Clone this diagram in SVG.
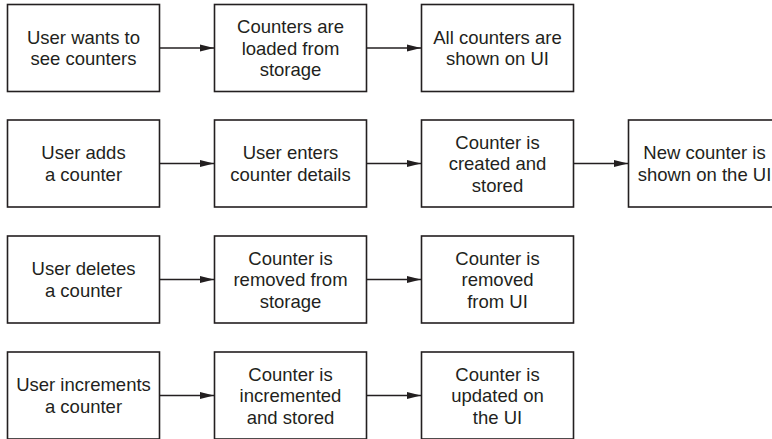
<svg xmlns="http://www.w3.org/2000/svg" width="772" height="439" viewBox="0 0 772 439">
<defs>
<style>
.box{fill:#fff;stroke:#231f20;stroke-width:1.6}
.t{font-family:"Liberation Sans",Arial,sans-serif;font-size:18.5px;fill:#231f20;text-anchor:middle}
.c{stroke:#231f20;stroke-width:1.3;fill:none;marker-end:url(#ah)}
</style>
<marker id="ah" markerUnits="userSpaceOnUse" markerWidth="14" markerHeight="8" refX="14" refY="4" orient="auto">
<path d="M0,0.5 L14,4 L0,7.5 z" fill="#231f20"/>
</marker>
</defs>
<rect width="772" height="439" fill="#fff"/>
<g id="connectors">
<line class="c" x1="159.5" y1="48" x2="214" y2="48"/>
<line class="c" x1="366.5" y1="48" x2="421" y2="48"/>
<line class="c" x1="159.5" y1="163.5" x2="214" y2="163.5"/>
<line class="c" x1="366.5" y1="163.5" x2="421" y2="163.5"/>
<line class="c" x1="573.5" y1="163.5" x2="628" y2="163.5"/>
<line class="c" x1="159.5" y1="279.5" x2="214" y2="279.5"/>
<line class="c" x1="366.5" y1="279.5" x2="421" y2="279.5"/>
<line class="c" x1="159.5" y1="395.5" x2="214" y2="395.5"/>
<line class="c" x1="366.5" y1="395.5" x2="421" y2="395.5"/>
</g>
<g id="n1"><rect class="box" x="7.5" y="4.5" width="152" height="87"/>
<text class="t" x="83.5" y="43.5">User wants to</text><text class="t" x="83.5" y="65">see counters</text></g>
<g id="n2"><rect class="box" x="214.5" y="4.5" width="152" height="87"/>
<text class="t" x="290.5" y="33">Counters are</text><text class="t" x="290.5" y="54.5">loaded from</text><text class="t" x="290.5" y="76">storage</text></g>
<g id="n3"><rect class="box" x="421.5" y="4.5" width="152" height="87"/>
<text class="t" x="497.5" y="43.5">All counters are</text><text class="t" x="497.5" y="65">shown on UI</text></g>

<g id="n4"><rect class="box" x="7.5" y="120" width="152" height="87"/>
<text class="t" x="83.5" y="159">User adds</text><text class="t" x="83.5" y="180.5">a counter</text></g>
<g id="n5"><rect class="box" x="214.5" y="120" width="152" height="87"/>
<text class="t" x="290.5" y="159">User enters</text><text class="t" x="290.5" y="180.5">counter details</text></g>
<g id="n6"><rect class="box" x="421.5" y="120" width="152" height="87"/>
<text class="t" x="497.5" y="148.5">Counter is</text><text class="t" x="497.5" y="170">created and</text><text class="t" x="497.5" y="191.5">stored</text></g>
<g id="n7"><rect class="box" x="628.5" y="120" width="152" height="87"/>
<text class="t" x="704.5" y="159">New counter is</text><text class="t" x="704.5" y="180.5">shown on the UI</text></g>

<g id="n8"><rect class="box" x="7.5" y="236" width="152" height="87"/>
<text class="t" x="83.5" y="275">User deletes</text><text class="t" x="83.5" y="296.5">a counter</text></g>
<g id="n9"><rect class="box" x="214.5" y="236" width="152" height="87"/>
<text class="t" x="290.5" y="264.5">Counter is</text><text class="t" x="290.5" y="286">removed from</text><text class="t" x="290.5" y="307.5">storage</text></g>
<g id="n10"><rect class="box" x="421.5" y="236" width="152" height="87"/>
<text class="t" x="497.5" y="264.5">Counter is</text><text class="t" x="497.5" y="286">removed</text><text class="t" x="497.5" y="307.5">from UI</text></g>

<g id="n11"><rect class="box" x="7.5" y="352" width="152" height="87"/>
<text class="t" x="83.5" y="391">User increments</text><text class="t" x="83.5" y="412.5">a counter</text></g>
<g id="n12"><rect class="box" x="214.5" y="352" width="152" height="87"/>
<text class="t" x="290.5" y="380.5">Counter is</text><text class="t" x="290.5" y="402">incremented</text><text class="t" x="290.5" y="423.5">and stored</text></g>
<g id="n13"><rect class="box" x="421.5" y="352" width="152" height="87"/>
<text class="t" x="497.5" y="380.5">Counter is</text><text class="t" x="497.5" y="402">updated on</text><text class="t" x="497.5" y="423.5">the UI</text></g>
</svg>
